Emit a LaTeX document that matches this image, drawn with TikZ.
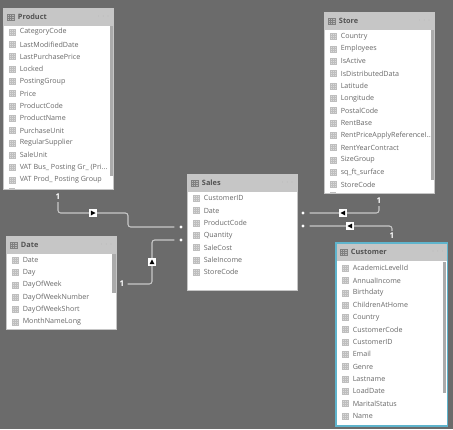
\documentclass[tikz,border=0pt]{standalone}
\usepackage{fontspec}
\setmainfont{Open Sans}
\definecolor{bg}{HTML}{6B6B6B}
\definecolor{hdr}{HTML}{C6C6C6}
\definecolor{txt}{HTML}{686868}
\definecolor{ico}{HTML}{BEBEBE}
\definecolor{scr}{HTML}{ABABAB}
\definecolor{cy}{HTML}{5FB4CC}
\definecolor{lin}{HTML}{C8C8C8}
\newcommand{\ddd}{.{}.{}.}
\tikzset{x=0.75pt,y=-0.75pt,
 head/.style={fill=hdr,draw=none},
 field/.style={anchor=west,inner sep=0pt,text=txt,font=\fontsize{5.35}{7}\selectfont},
 title/.style={anchor=west,inner sep=0pt,text=black!68,font=\fontsize{5.5}{7}\bfseries\selectfont},
 dotsl/.style={anchor=east,inner sep=0pt,text=black!30,font=\fontsize{6}{7}\selectfont},
 conn/.style={draw=lin,line width=0.8pt,rounded corners=2pt},
 enddot/.style={circle,fill=white,inner sep=0pt,minimum size=2.6pt},
 one/.style={inner sep=0pt,text=white,font=\fontsize{6}{7}\bfseries\selectfont},
 marker/.style={fill=white,inner sep=0pt,minimum size=5.5pt}
}
% icon at (x,y)
\newcommand{\ticon}[3][ico]{%
 \fill[#1!55] (#2-3.2,#3-3) rectangle (#2+3.2,#3+3);
 \draw[#1,line width=0.25pt] (#2-3.2,#3-3) rectangle (#2+3.2,#3+3)
   (#2-3.2,#3-1) -- (#2+3.2,#3-1) (#2-3.2,#3+1) -- (#2+3.2,#3+1)
   (#2-1,#3-3) -- (#2-1,#3+3) (#2+1,#3-3) -- (#2+1,#3+3);}
% card: name, title, x0, y0, x1, y1, border colour, first row y, field list
\newcommand{\tablecard}[9]{%
 \fill[white] (#3,#4) rectangle (#5,#6);
 \path[head] (#3,#4) rectangle (#5,#4+18);
 \draw[#7,line width=0.7pt] (#3,#4) rectangle (#5,#6);
 \ticon[gray]{#3+7.5}{#4+9}
 \node[title] (#1) at (#3+14.7,#4+9) {#2};
 \node[dotsl] (#1dots) at (#5-3,#4+8.5) {$\cdots$};
 \foreach \n [count=\i from 0] in {#9} {
   \pgfmathsetmacro{\yy}{#8+12.33*\i}
   \ticon{#3+9}{\yy}
   \node[field] (#1row\i) at (#3+16.5,\yy) {\n};
 }}
\begin{document}
\begin{tikzpicture}
\useasboundingbox (0,0) rectangle (453,429);
\fill[bg] (0,0) rectangle (453,429);

\tablecard{product}{Product}{3}{8}{113}{189}{hdr}{32}{CategoryCode,LastModifiedDate,LastPurchasePrice,Locked,PostingGroup,Price,ProductCode,ProductName,PurchaseUnit,RegularSupplier,SaleUnit,{VAT Bus\_ Posting Gr\_ (Pri\ddd},{VAT Prod\_ Posting Group}}
\fill[scr] (109.5,26) rectangle (112.5,176);
\fill[ico] (9,188) rectangle (15,189);

\tablecard{date}{Date}{6}{236}{116}{329}{hdr}{260.3}{Date,Day,DayOfWeek,DayOfWeekNumber,DayOfWeekShort,MonthNameLong}
\fill[scr] (112,254) rectangle (115.5,293);

\tablecard{sales}{Sales}{187}{174}{297}{290}{hdr}{198.3}{CustomerID,Date,ProductCode,Quantity,SaleCost,SaleIncome,StoreCode}

\tablecard{store}{Store}{324}{12}{434}{193}{hdr}{36.5}{Country,Employees,IsActive,IsDistributedData,Latitude,Longitude,PostalCode,RentBase,RentPriceApplyReferenceI\ddd,RentYearContract,SizeGroup,sq\_ft\_surface,StoreCode}
\fill[scr] (430.5,30) rectangle (433.5,180);
\fill[ico] (330,192) rectangle (336,193);

\tablecard{customer}{Customer}{336}{243}{447.5}{426}{cy}{268}{AcademicLevelId,AnnualIncome,Birthdaty,ChildrenAtHome,Country,CustomerCode,CustomerID,Email,Genre,Lastname,LoadDate,MaritalStatus,Name}
\fill[scr] (443,262) rectangle (446,393);
\fill[ico] (342,424.5) rectangle (348,425.5);
\draw[cy,line width=1.1pt] (336,243) rectangle (447.5,426);

% relationship ends
\node[enddot] (pdot) at (181,227) {};
\node[enddot] (ddot) at (181,240) {};
\node[enddot] (sdot) at (303,213) {};
\node[enddot] (cdot) at (303,226) {};
\node[one] (pone) at (58,197) {1};
\node[one] (done) at (122,284) {1};
\node[one] (sone) at (379,201) {1};
\node[one] (cone) at (392,236) {1};

\draw[conn] (pone.south) ++(0,2) |- (128,213) |- ([xshift=-3.5pt]pdot.west);
\draw[conn] (done.east) ++(3,0) -| (152,240) -- ([xshift=-3.5pt]ddot.west);
\draw[conn] ([xshift=3.5pt]sdot.east) -| ([yshift=-1.5pt]sone.south);
\draw[conn] ([xshift=3.5pt]cdot.east) -| ([yshift=1.5pt]cone.north);

% cross-filter markers
\node[marker] (m1) at (93,213) {}; \fill[black] (90.8,210.5) -- (95.5,213) -- (90.8,215.5) -- cycle;
\node[marker] (m2) at (152,262) {}; \fill[black] (149.5,264.2) -- (152,259.5) -- (154.5,264.2) -- cycle;
\node[marker] (m3) at (343,213) {}; \fill[black] (345.2,210.5) -- (340.5,213) -- (345.2,215.5) -- cycle;
\node[marker] (m4) at (350,226) {}; \fill[black] (352.2,223.5) -- (347.5,226) -- (352.2,228.5) -- cycle;
\end{tikzpicture}
\end{document}
